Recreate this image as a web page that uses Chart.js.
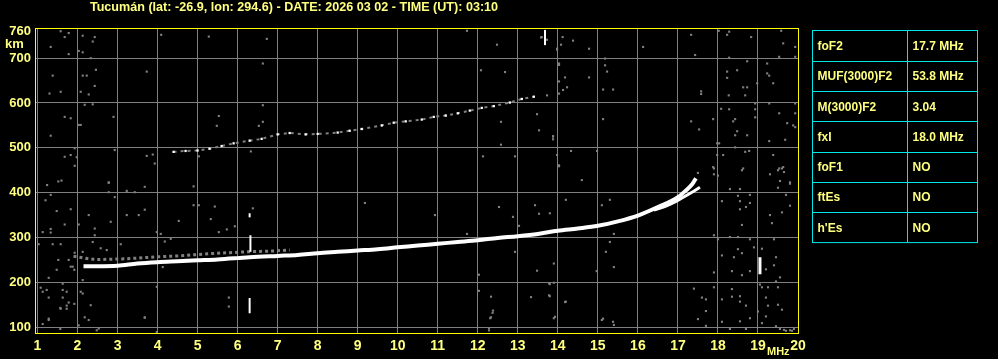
<!DOCTYPE html>
<html>
<head>
<meta charset="utf-8">
<title>Ionograma Tucumán</title>
<script src="https://cdn.jsdelivr.net/npm/chart.js@4/dist/chart.umd.min.js"></script>
<style>
    html, body { margin: 0; padding: 0; background: #000; }
    #wrap { width: 998px; height: 359px; }
</style>
</head>
<body>
<div id="wrap"><canvas id="iono" width="998" height="359"></canvas></div>
<script>
// Ionogram data (frequency MHz, virtual height km)
const titleText = 'Tucumán (lat: -26.9, lon: 294.6) - DATE: 2026 03 02 - TIME (UT): 03:10';

const xTicks = [1, 2, 3, 4, 5, 6, 7, 8, 9, 10, 11, 12, 13, 14, 15, 16, 17, 18, 19, 20];
const yTicks = [100, 200, 300, 400, 500, 600, 700, 760];

// F2 ordinary trace
const oFreq   = [2.15, 2.5, 3.0, 3.5, 4.0, 4.5, 5.0, 5.5, 6.0, 6.3, 7.0, 7.5, 8.0, 8.5, 9.0, 9.5, 10.0, 10.5, 11.0, 11.5, 12.0, 12.5, 13.0, 13.5, 14.0, 14.5, 15.0, 15.5, 16.0, 16.5, 17.0, 17.2, 17.35, 17.45];
const oHeight = [236, 236, 237, 242, 245, 247, 249, 251, 254, 256, 259, 261, 265, 268, 271, 274, 278, 282, 286, 290, 294, 299, 303, 308, 315, 320, 326, 336, 349, 368, 390, 405, 418, 432];

// grey echo just above the O trace at low frequencies
const fringeFreq   = [1.9, 2.5, 3.0, 3.5, 4.0, 4.5, 5.0, 5.5, 6.0, 6.2, 6.9, 7.3];
const fringeHeight = [258, 251, 252, 254, 257, 259, 262, 265, 267, 268, 270, 272];

// F2 extraordinary trace (split near the top)
const xFreq   = [16.4, 16.7, 16.9, 17.1, 17.35, 17.55];
const xHeight = [361, 370, 378, 388, 401, 412];

// second hop
const hopFreq   = [4.4, 4.7, 5.0, 5.3, 5.6, 5.9, 6.3, 6.6, 7.0, 7.3, 7.7, 8.0, 8.5, 8.8, 9.1, 9.6, 9.9, 10.2, 10.6, 10.9, 11.2, 11.5, 11.8, 12.1, 12.4, 12.8, 13.1, 13.4];
const hopHeight = [491, 493, 494, 498, 504, 510, 516, 520, 530, 533, 530, 531, 534, 538, 542, 550, 556, 559, 563, 569, 572, 577, 583, 589, 593, 601, 609, 614];

// short vertical white spikes (interference)
const spikeFreq = [6.32, 6.3, 6.3, 13.68, 19.05];
const spikeLow  = [268, 131, 345, 729, 218];
const spikeHigh = [305, 165, 354, 763, 256];

// scattered grey noise dots
const noisePoints = [
    [1.58,760],[1.78,756],[1.68,747],[1.33,725],[2.13,750],[2.43,747],[2.38,737],[2.03,716],[1.78,709],[2.13,713],
    [2.33,700],[2.46,674],[3.73,670],[1.38,661],[2.13,661],[2.23,661],[2.43,638],[1.3,621],[1.58,625],[2.08,625],
    [2.28,619],[2.18,596],[2.38,597],[1.68,569],[1.83,566],[2.9,569],[2.03,551],[2.08,551],[1.33,527],[1.93,499],
    [1.68,480],[1.83,484],[1.98,479],[2.93,495],[1.93,460],[3.73,482],[3.88,485],[3.93,465],[2.78,423],[1.6,427],
    [4.09,752],[5.28,748],[6.73,743],[11.73,761],[12.48,730],
    [1.24,417],[1.52,425],[2.78,422],[2.78,401],[3.23,404],[3.43,401],[3.68,413],[4.9,414],[1.2,383],[1.33,395],
    [2.93,390],[1.83,363],[1.48,359],[2.28,350],[3.23,350],[3.53,350],[3.68,362],[4.9,372],[5.03,372],[5.43,369],
    [5.33,341],[4.53,337],[2.83,335],[2.43,320],[2.43,305],[2.03,329],[1.68,329],[1.33,319],[1.13,312],[1.33,311],
    [5.53,312],[5.73,318],[5.93,325],[6.38,365],[3.98,312],[4.08,308],[4.18,291],[4.33,297],[1.03,285],[1.38,285],
    [1.58,285],[2.38,290],[3.08,285],[2.58,276],[2.73,272],[1.93,266],[2.13,268],[1.52,250],[1.78,250],[1.88,235],
    [1.83,235],[2.13,205],[4.13,234],[1.92,228],[1.48,228],[1.28,210],[1.08,188],[1.23,183],[1.63,197],[1.63,183],
    [1.73,179],[1.13,179],[3.98,190],[2.08,179],[2.13,175],[1.28,166],[1.63,166],[1.78,155],[1.92,152],[2.33,149],
    [1.57,143],[1.73,148],[5.78,166],[5.78,146],[2.18,122],[3.68,122],[1.28,119],[1.13,107],[2.03,104],[1.57,96],
    [2.53,97],[3.98,89],
    [1.28,116],[1.58,141],[1.73,141],[2.28,116],[2.48,93],[3.68,121],[12.31,120],[12.37,132],[12.28,93],[13.93,123],
    [14.18,156],[15.13,119],[15.38,112],
    [9.18,377],[10.93,350],[12.53,368],[12.88,346],[13.43,372],[13.53,353],[13.03,326],[11.73,308],[12.93,268],[13.48,226],
    [13.78,198],[13.78,171],[12.03,217],[12.03,181],[12.33,168],[12.38,137],[12.33,122],[13.33,167],[12.28,98],
    [14.03,459],[14.6,428],[14.2,384],[15.3,384],[15.1,372],[13.8,354],[15.4,308],[15.3,290],[15.2,268],[15.4,234],
    [14.97,225],[13.9,242],[13.8,196],[13.9,199],[13.8,169],[14.2,157],[13.9,120],[15.1,116],[15.4,105],
    [17.5,444],[17.9,454],[17.9,441],[18.0,438],[18.6,450],[19.3,441],[19.5,450],[19.6,454],[19.65,446],[19.55,426],
    [19.8,423],[19.8,420],[19.5,411],[18.3,408],[18.55,408],[18.5,393],[18.8,395],[19.7,395],[18.1,381],[18.55,381],
    [18.8,377],[18.7,368],[18.55,363],[19.8,371],[19.6,356],[19.3,350],[19.35,332],[18.6,328],[17.9,305],[18.0,296],
    [18.3,301],[18.5,301],[18.8,296],[19.4,296],[19.1,275],[18.5,274],[18.6,265],[18.1,260],[18.4,256],[18.9,278],
    [19.4,238],[19.2,229],[19.45,256],[17.9,222],[18.35,225],[18.6,216],[18.8,225],[19.55,211],[19.45,202],[19.05,195],
    [19.1,189],[19.25,189],[19.5,189],[17.4,186],[17.9,189],[18.35,185],[17.6,166],[17.7,162],[18.1,162],[18.35,168],
    [18.55,169],[18.55,157],[18.7,148],[19.2,166],[19.25,148],[19.5,150],[19.6,139],[17.7,136],[17.5,118],[19.0,135],
    [18.8,120],[19.2,124],[18.55,113],[19.1,109],[18.1,112],[17.7,103],[18.3,96],[18.7,96],[19.45,102],[19.55,96],
    [19.65,94],[19.8,93],[19.9,96],[19.85,92],[19.7,92],
    [6.63,688],[12.08,673],[12.68,669],[13.58,746],[13.73,741],[13.98,719],[14.03,685],[6.63,595],[5.53,571],[5.48,549],
    [6.53,549],[6.63,558],[13.48,575],[13.53,539],[13.88,526],[12.58,558],[12.58,507],[12.13,481],[12.93,481],[6.33,492],
    [5.03,481],
    [13.6,747],[14.12,747],[14.38,739],[14.08,730],[13.98,721],[14.78,721],[16.13,725],[17.33,752],[18.02,761],[18.28,759],
    [18.23,752],[18.83,747],[19.58,761],[19.63,733],[19.93,725],[17.43,707],[18.28,701],[19.53,703],[19.93,703],[14.03,688],
    [15.18,699],[15.18,684],[15.23,670],[18.73,693],[19.23,688],[19.23,666],[19.28,661],[18.23,670],[18.48,673],[18.23,656],
    [14.18,657],[14.78,657],[14.03,648],[14.23,635],[14.13,629],[14.03,621],[13.73,617],[15.13,630],[15.38,630],[17.58,626],
    [17.58,620],[18.63,635],[18.73,635],[19.38,644],[18.98,644],[18.68,617],[18.27,617],[18.93,599],[19.28,599],[19.93,599],
    [18.08,587],[18.28,586],[18.93,586],[18.93,568],[19.53,577],[19.93,577],[15.13,564],[17.33,559],[17.88,564],[18.43,564],
    [18.38,559],[19.73,555],[19.88,550],[19.93,546],[17.53,541],[18.48,537],[18.43,528],[18.73,528],[13.88,525],[13.88,519],
    [19.28,515],[19.68,518],[17.98,510],[18.03,510],[18.43,501],[14.33,493],[14.98,493],[13.98,484],[18.13,484],[18.68,491],
    [18.78,493],[19.38,484],[17.98,484],[14.03,461],[17.88,457],[18.63,454],[19.53,454],[19.63,457]
];

// Table of scaled parameters
const tableLabels = ['foF2', 'MUF(3000)F2', 'M(3000)F2', 'fxI', 'foF1', 'ftEs', "h'Es"];
const tableValues = ['17.7 MHz', '53.8 MHz', '3.04', '18.0 MHz', 'NO', 'NO', 'NO'];

const textYellow = '#ffff80';
const gridGrey = '#808080';
const fontFamily = '"Liberation Sans", Arial, sans-serif';

const toXY = (xs, ys) => xs.map((x, i) => ({ x: x, y: ys[i] }));

const spikeSets = spikeFreq.map((f, i) => ({
    type: 'line',
    data: [{ x: f, y: spikeLow[i] }, { x: f, y: spikeHigh[i] }],
    borderColor: '#ffffff',
    borderWidth: i === 4 ? 3 : 2,
    pointRadius: 0,
    order: 2
}));

/*
    Plugin: title, axis units, plot frame and parameter table
*/
const decorations = {
    id: 'decorations',
    afterDraw(chart) {
        const ctx = chart.ctx;
        const a = chart.chartArea;
        ctx.save();

        // frame
        ctx.strokeStyle = '#ffff00';
        ctx.lineWidth = 1;
        ctx.strokeRect(a.left - 0.5, a.top - 0.5, a.right - a.left + 1, a.bottom - a.top + 1);

        // title
        ctx.fillStyle = textYellow;
        ctx.font = 'bold 12.6px ' + fontFamily;
        ctx.textAlign = 'center';
        ctx.textBaseline = 'middle';
        ctx.fillText(titleText, 294, 7.5);

        // units
        ctx.font = 'bold 13px ' + fontFamily;
        ctx.textAlign = 'left';
        ctx.fillText('km', 5, 44);
        ctx.font = 'bold 11px ' + fontFamily;
        ctx.fillText('MHz', 767, 352);

        // table
        const x0 = 812.5, x1 = 907.5, x2 = 977.5, y0 = 30.5, rowH = 30.3;
        ctx.strokeStyle = '#00e8e8';
        ctx.lineWidth = 1;
        ctx.strokeRect(x0, y0, x2 - x0, rowH * tableLabels.length);
        ctx.beginPath();
        ctx.moveTo(x1, y0);
        ctx.lineTo(x1, y0 + rowH * tableLabels.length);
        for (let i = 1; i < tableLabels.length; i++) {
            const y = Math.round(y0 + rowH * i) + 0.5;
            ctx.moveTo(x0, y);
            ctx.lineTo(x2, y);
        }
        ctx.stroke();

        ctx.font = 'bold 12px ' + fontFamily;
        ctx.fillStyle = textYellow;
        tableLabels.forEach((lab, i) => {
            const y = y0 + rowH * i + rowH / 2 + 1;
            ctx.fillText(lab, x0 + 5, y);
            ctx.fillText(tableValues[i], x1 + 5, y);
        });
        ctx.restore();
    }
};

const ctx = document.getElementById('iono').getContext('2d');
const ionogram = new Chart(ctx, {
    type: 'line',
    data: {
        datasets: [
            {
                label: 'O',
                data: toXY(oFreq, oHeight),
                borderColor: '#ffffff',
                borderWidth: 4,
                pointRadius: 0,
                cubicInterpolationMode: 'monotone',
                order: 1
            },
            {
                label: 'X',
                data: toXY(xFreq, xHeight),
                borderColor: '#ffffff',
                borderWidth: 3,
                pointRadius: 0,
                cubicInterpolationMode: 'monotone',
                order: 1
            },
            {
                label: 'fringe',
                data: toXY(fringeFreq, fringeHeight),
                borderColor: gridGrey,
                borderWidth: 3,
                borderDash: [3, 3],
                pointRadius: 0,
                cubicInterpolationMode: 'monotone',
                order: 3
            },
            {
                label: '2F',
                data: toXY(hopFreq, hopHeight),
                borderColor: gridGrey,
                borderWidth: 2,
                borderDash: [3, 4],
                pointStyle: 'rect',
                pointRadius: 1.6,
                pointBorderWidth: 0,
                pointBackgroundColor: '#ffffff',
                order: 3
            },
            ...spikeSets,
            {
                label: 'noise',
                type: 'scatter',
                data: noisePoints.map(p => ({ x: p[0], y: p[1] })),
                pointStyle: 'rect',
                pointRadius: 1.5,
                pointBorderWidth: 0,
                pointBackgroundColor: gridGrey,
                order: 5
            }
        ]
    },
    options: {
        responsive: false,
        animation: false,
        devicePixelRatio: 1,
        layout: { padding: { left: 0, top: 29, right: 200, bottom: 0 } },
        plugins: {
            legend: { display: false },
            tooltip: { enabled: false },
            title: { display: false }
        },
        scales: {
            x: {
                type: 'linear',
                min: 0.963,
                max: 20,
                afterBuildTicks: s => { s.ticks = xTicks.map(v => ({ value: v })); },
                afterFit: s => { s.height = 26; },
                border: { display: false },
                grid: { color: gridGrey, lineWidth: 1, drawTicks: false },
                ticks: {
                    color: textYellow,
                    font: { family: fontFamily, size: 14, weight: 'bold' },
                    padding: 5,
                    maxRotation: 0,
                    autoSkip: false
                }
            },
            y: {
                type: 'linear',
                min: 87,
                max: 765,
                afterBuildTicks: s => { s.ticks = yTicks.map(v => ({ value: v })); },
                afterFit: s => { s.width = 36; },
                border: { display: false },
                grid: {
                    color: c => (c.tick && c.tick.value === 760 ? 'rgba(0,0,0,0)' : gridGrey),
                    lineWidth: 1,
                    drawTicks: false
                },
                ticks: {
                    color: textYellow,
                    font: { family: fontFamily, size: 13, weight: 'bold' },
                    padding: 5,
                    autoSkip: false
                }
            }
        }
    },
    plugins: [decorations]
});
</script>
</body>
</html>
